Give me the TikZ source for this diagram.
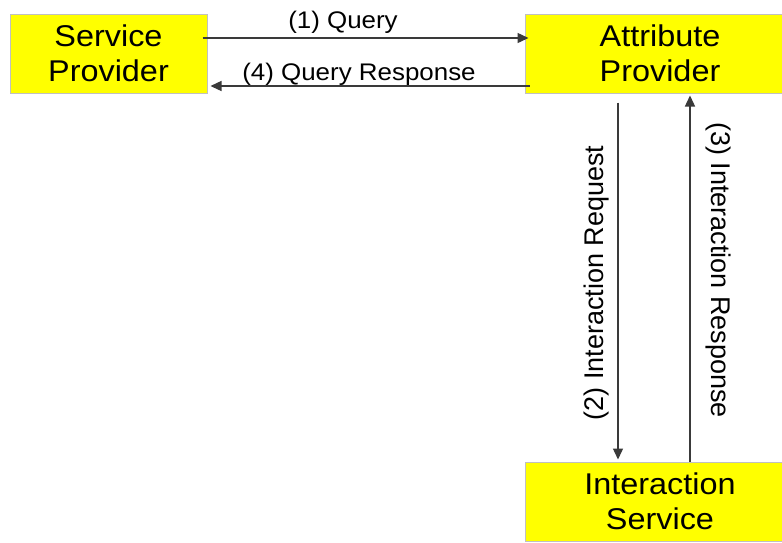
\documentclass[tikz,border=0pt]{standalone}
\usepackage{fontspec}
\setmainfont{Liberation Sans}
\newfontfamily\boxfont[FakeStretch=1.08]{Liberation Sans}
\newfontfamily\lblfont[FakeStretch=1.08]{Liberation Sans}
\usetikzlibrary{arrows.meta}
\definecolor{boxyellow}{HTML}{FFFF00}
\definecolor{boxborder}{HTML}{C0C0C0}
\definecolor{linegray}{HTML}{3A3A3A}
\tikzset{
  entity/.style={draw=boxborder, line width=1pt, fill=boxyellow, inner sep=0pt,
    minimum height=79pt, align=center,
    font=\boxfont\fontsize{30}{35}\selectfont},
  arr/.style={draw=linegray, line width=1.4pt,
    -{Triangle[length=11pt,width=10pt]}},
  hlabel/.style={anchor=base, inner sep=0pt, font=\lblfont\fontsize{24}{28}\selectfont},
  vlabel/.style={anchor=base, inner sep=0pt, font=\fontsize{27}{30}\selectfont}
}
\begin{document}
\begin{tikzpicture}[x=1pt,y=-1pt]
\clip (0,0) rectangle (782,542);
\fill[white] (0,0) rectangle (782,542);
\node[entity, minimum width=197pt] (sp) at (108.5,53.5) {Service\\Provider};
\node[entity, minimum width=270pt] (ap) at (660,53.5) {Attribute\\Provider};
\node[entity, minimum width=270pt] (is) at (660,501.5) {Interaction\\Service};
% (1) Query
\draw[arr] ([xshift=-5pt,yshift=15.5pt]sp.east) -- ([xshift=4pt,yshift=15.5pt]ap.west);
\node[hlabel] (l1) at (343,28) {(1) Query};
% (4) Query Response
\draw[arr] ([xshift=5pt,yshift=-32.5pt]ap.west) -- ([xshift=3pt,yshift=-32.5pt]sp.east);
\node[hlabel] (l4) at (359,80) {(4) Query Response};
% (2) Interaction Request
\draw[arr] ([xshift=-42pt,yshift=-9pt]ap.south) -- ([xshift=-42pt,yshift=2pt]is.north);
\node[vlabel, rotate=90] (l2) at (603,283) {(2) Interaction Request};
% (3) Interaction Response
\draw[arr] ([xshift=30pt]is.north) -- ([xshift=30pt,yshift=-2pt]ap.south);
\node[vlabel, rotate=-90] (l3) at (711,270) {(3) Interaction Response};
\end{tikzpicture}
\end{document}
